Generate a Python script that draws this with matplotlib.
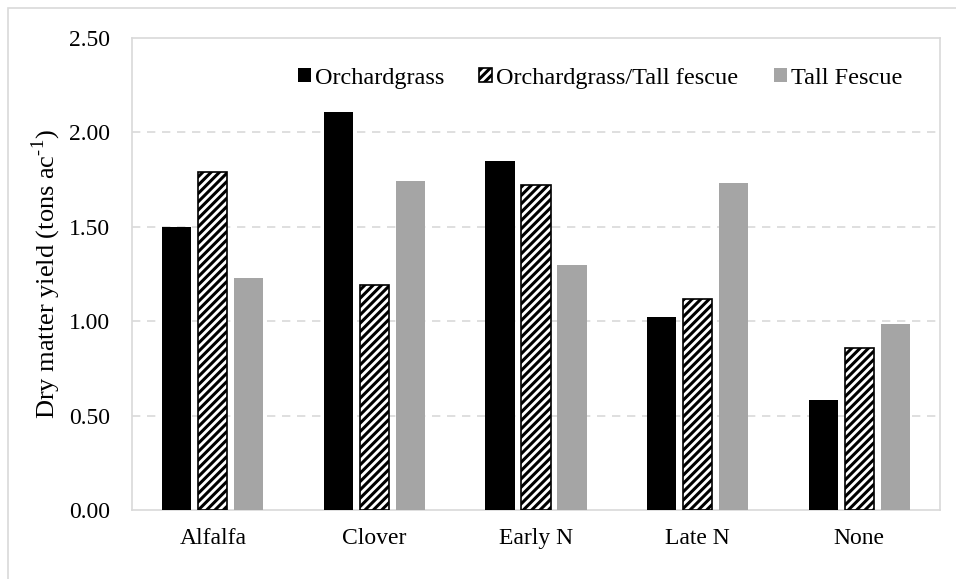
import numpy as np
import matplotlib
matplotlib.use('Agg')
import matplotlib.pyplot as plt
from matplotlib.patches import Rectangle

categories = ['Alfalfa', 'Clover', 'Early N', 'Late N', 'None']
orchardgrass = [1.50, 2.11, 1.85, 1.02, 0.58]
orch_tall = [1.79, 1.19, 1.72, 1.12, 0.86]
tall_fescue = [1.23, 1.74, 1.30, 1.73, 0.985]
yticks = [0.0, 0.5, 1.0, 1.5, 2.0, 2.5]

plt.rcParams['font.family'] = ['Liberation Serif', 'DejaVu Serif']
plt.rcParams['mathtext.fontset'] = 'custom'
plt.rcParams['mathtext.rm'] = 'Liberation Serif'
plt.rcParams['hatch.linewidth'] = 2.2

fig = plt.figure(figsize=(9.56, 5.79), dpi=100)
ax = fig.add_axes([132 / 956, 1 - 510 / 579, (940 - 132) / 956, (510 - 38) / 579])

# outer chart frame (Excel chart area border)
fig.patches.append(Rectangle((8 / 956, -0.1), 1.2, 1 - 8 / 579 + 0.1,
                             transform=fig.transFigure, fill=False,
                             edgecolor='#d9d9d9', linewidth=1.2))

x = np.arange(len(categories))
w = 0.18
off = 0.223
ax.bar(x - off, orchardgrass, w, color='black', label='Orchardgrass', zorder=3)
ax.bar(x, orch_tall, w, color='white', edgecolor='black', hatch='////',
       linewidth=1.2, label='Orchardgrass/Tall fescue', zorder=3)
ax.bar(x + off, tall_fescue, w, color='#a5a5a5', label='Tall Fescue', zorder=3)

ax.set_xlim(-0.5, len(categories) - 0.5)
ax.set_ylim(0, 2.5)
ax.set_yticks(yticks)
ax.set_yticklabels([f'{v:.2f}' for v in yticks])
ax.set_xticks(x)
ax.set_xticklabels(categories)
ax.tick_params(axis='both', length=0, labelsize=17)
ax.tick_params(axis='x', pad=13)
ax.tick_params(axis='y', pad=16)

for v in yticks[1:-1]:
    ax.axhline(v, color='#d9d9d9', linestyle=(0, (5, 4)), linewidth=1.2, zorder=1)
for s in ax.spines.values():
    s.set_color('#d9d9d9')
    s.set_linewidth(1.2)

ax.set_ylabel('Dry matter yield (tons ac$^{\\text{-1}}$)', fontsize=19, labelpad=4)

ax.legend(loc='center', bbox_to_anchor=(0.579, 0.915), ncol=3, frameon=False,
          fontsize=17.5, handlelength=0.53, handleheight=0.53, handletextpad=0.17,
          columnspacing=1.45)

fig.savefig('out.png', dpi=100)
